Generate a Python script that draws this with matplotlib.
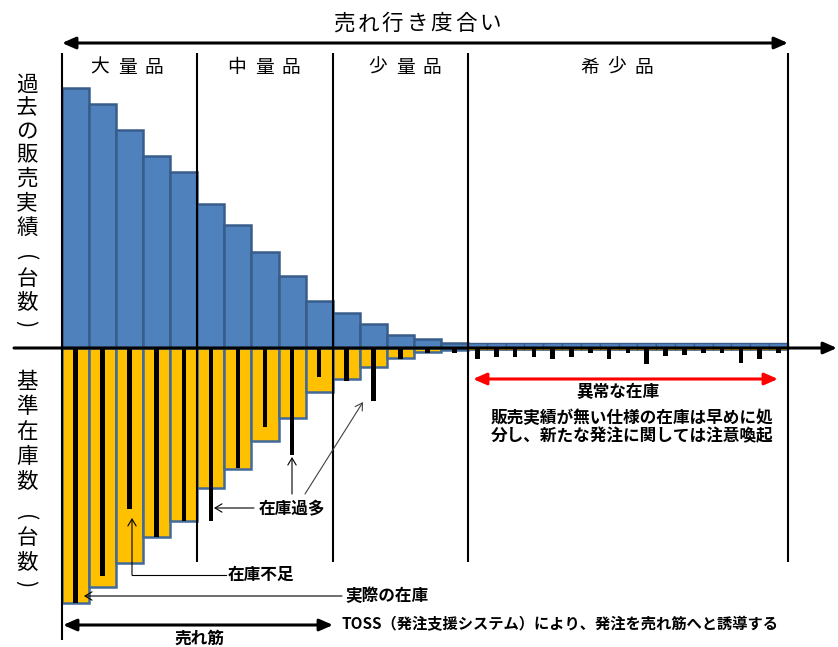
#!/usr/bin/env python3
"""Sales vs. stock by item rank (blue = past sales, yellow = base stock, black = actual)."""
import matplotlib
matplotlib.use("Agg")
import matplotlib.pyplot as plt
import numpy as np

plt.rcParams["font.family"] = ["Noto Sans CJK JP", "DejaVu Sans"]

# main items (大量品 / 中量品 / 少量品, five each)
sales = [100, 93.8, 83.8, 73.8, 67.7, 55.4, 47.3, 36.9, 27.7, 18.1, 13.5, 9.2, 5.0, 3.5, 1.9]
base_stock = [98, 92, 82.7, 72.7, 66.5, 53.8, 46.5, 35.8, 26.9, 16.9, 11.9, 7.3, 3.8, 1.5, 0.8]
actual_stock = [98, 87.7, 61.9, 72.7, 66.5, 66.5, 46.2, 30.4, 41.2, 11.2, 12.7, 20.4, 4.2, 1.9, 1.9]
# rare items (希少品)
rare_sales = [2.0, 2.0, 2.0, 2.0, 2.0, 2.0, 2.0, 2.0, 2.0, 2.0, 2.0, 2.0, 2.0, 2.0, 2.0, 2.0, 2.0]
rare_base = [0.6, 0.6, 0.6, 0.6, 0.6, 0.6, 0.6, 0.6, 0.6, 0.6, 0.6, 0.6, 0.6, 0.6, 0.6, 0.6, 0.6]
rare_actual = [4.2, 3.5, 3.5, 3.5, 4.2, 3.5, 1.9, 4.2, 1.9, 6.2, 3.1, 2.7, 1.9, 1.9, 5.8, 4.2, 1.9]

groups = ["大量品", "中量品", "少量品", "希少品"]
title = "売れ行き度合い"
ylab_top = "過去の販売実績(台数)"
ylab_bot = "基準在庫数(台数)"

# layout in pixels of the 838x647 picture
W, H = 838, 647
X0, UX = 62, 27.07      # left edge of first bar, px per main bar
Y0, UY = 348, 2.6       # baseline, px per unit
TAIL_W = 0.695          # rare bars are narrower

BLUE, BLUE_E = "#4F81BD", "#385D8A"
YEL, YEL_E = "#FFC000", "#41699A"


def P(x, y):
    """pixel -> data coords"""
    return ((x - X0) / UX, (Y0 - y) / UY)


def ftext(x, y, s, **kw):
    fig.text(x / W, 1 - y / H, s, **kw)


def spaced(cx, cy, s, pitch, **kw):
    n = len(s)
    for i, ch in enumerate(s):
        ftext(cx + (i - (n - 1) / 2) * pitch, cy, ch, ha="center", va="center", **kw)


def vtext(x, ys, s, **kw):
    # stacked characters; brackets turned to their vertical form
    for y, ch in zip(ys, s):
        if ch in "()":
            ftext(x - 2, y, ch, ha="center", va="center", rotation=-90, **kw)
        else:
            ftext(x, y, ch, ha="center", va="center", **kw)


def arrow(tip, tail, style, color="black", lw=1.0, ms=10):
    ax.annotate("", xy=P(*tip), xytext=P(*tail),
                arrowprops=dict(arrowstyle=style, color=color, lw=lw, shrinkA=0, shrinkB=0,
                                mutation_scale=ms))


fig = plt.figure(figsize=(W / 100, H / 100), dpi=100)
ax = fig.add_axes([0, 0, 1, 1])
ax.set_xlim((0 - X0) / UX, (W - X0) / UX)
ax.set_ylim((Y0 - H) / UY, Y0 / UY)
ax.set_axis_off()

n = len(sales)
xm = np.arange(n)
xt = n + np.arange(len(rare_sales)) * TAIL_W
x_end = n + len(rare_sales) * TAIL_W

ax.bar(xm, sales, width=1, align="edge", color=BLUE, edgecolor=BLUE_E, lw=1.8)
ax.bar(xt, rare_sales, width=TAIL_W, align="edge", color=BLUE, edgecolor=BLUE_E, lw=1.0)
ax.bar(xm, -np.array(base_stock), width=1, align="edge", color=YEL, edgecolor=YEL_E, lw=1.8)
ax.bar(xt, -np.array(rare_base), width=TAIL_W, align="edge", color=YEL, edgecolor=YEL_E, lw=0.6)
ax.bar(xm + 0.5, -np.array(actual_stock), width=0.17, color="black")
ax.bar(xt + TAIL_W / 2, -np.array(rare_actual), width=0.17, color="black")

# group dividers
ax.vlines([5, 10, n, x_end], P(0, 562)[1], P(0, 53)[1], color="black", lw=1.5)
ax.vlines([0], P(0, 640)[1], P(0, 53)[1], color="black", lw=1.5)

# baseline axis and top arrow
arrow((837, 348), (14, 348), "-|>,head_length=0.8,head_width=0.35", lw=2.2)
arrow((788, 43), (62, 43), "<|-|>,head_length=0.8,head_width=0.35", lw=2.2)
spaced(417, 24, title, 24.4, fontsize=15.5)
for cx, g in zip([127, 264, 405, 617], groups):
    spaced(cx, 67, g, 27, fontsize=13.5)

# vertical labels
vtext(27, [85, 108, 132, 155, 179, 203, 228, 258, 279, 303, 324], ylab_top, fontsize=15.5)
vtext(27, [382, 407, 432, 457, 482, 518, 538, 563, 584], ylab_bot, fontsize=15.5)

# rare stock note
arrow((778, 379), (473, 379), "<|-|>,head_length=0.8,head_width=0.35", color="red", lw=2.2)
ftext(618, 392, "異常な在庫", ha="center", va="center", fontsize=12, weight="bold")
ftext(491, 427, "販売実績が無い仕様の在庫は早めに処\n分し、新たな発注に関しては注意喚起",
      ha="left", va="center", fontsize=12, weight="bold", linespacing=1.05)

# leaders
ann = dict(fontsize=12, weight="bold", va="center")
open_head = "->,head_length=0.5,head_width=0.3"
ftext(259, 508, "在庫過多", ha="left", **ann)
arrow((214, 508), (254, 508), open_head, lw=0.8)
arrow((292, 457), (292, 494), open_head, lw=0.8)
arrow((363, 402), (305, 494), open_head, color="#404040", lw=0.8)

ftext(228, 575, "在庫不足", ha="left", **ann)
ax.plot(*zip(P(226, 575), P(132, 575)), color="black", lw=0.8)
arrow((132, 518), (132, 575), open_head, lw=0.8)

ftext(345, 596, "実際の在庫", ha="left", **ann)
arrow((84, 596), (342, 596), open_head, lw=0.8)

arrow((333, 625), (63, 625), "<|-|>,head_length=0.8,head_width=0.35", lw=2.2)
ftext(199, 639, "売れ筋", ha="center", **ann)
ftext(341, 624, "TOSS（発注支援システム）により、発注を売れ筋へと誘導する", ha="left",
      fontsize=11, weight="bold", va="center")

fig.savefig("out.png", dpi=100)
plt.close(fig)
